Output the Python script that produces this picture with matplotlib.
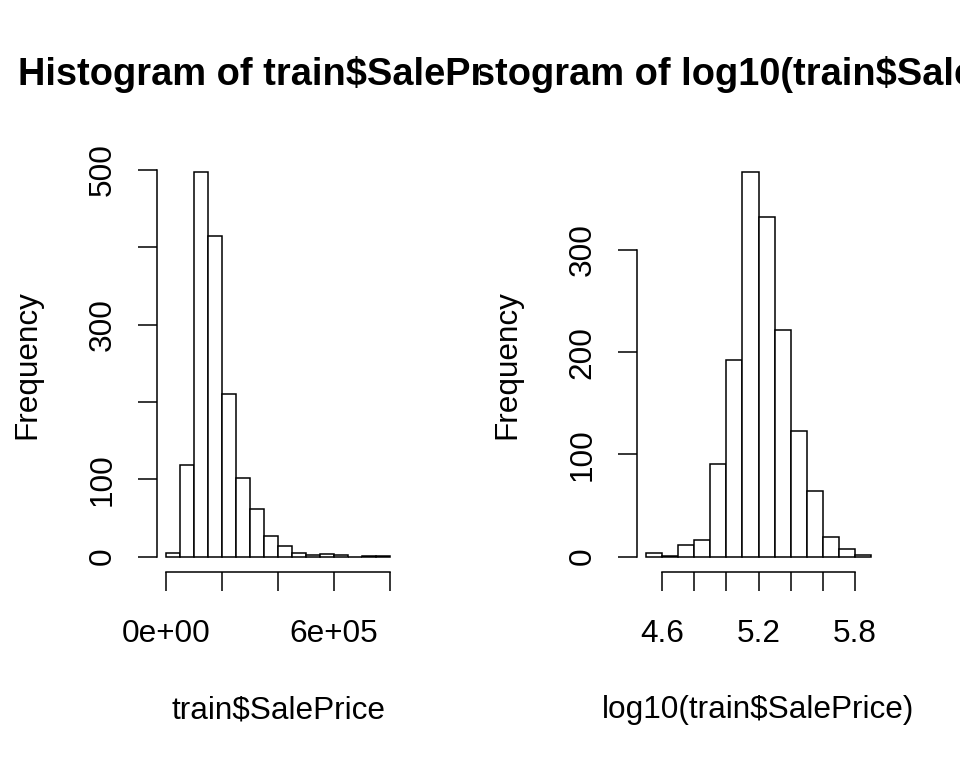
import matplotlib
matplotlib.use("Agg")
import matplotlib.pyplot as plt
from matplotlib.transforms import Bbox, TransformedBbox

plt.rcParams['font.family'] = ['Liberation Sans', 'DejaVu Sans']
plt.rcParams['font.size'] = 22.7

# histogram of SalePrice (bins of 50000)
price_breaks = [0, 50000, 100000, 150000, 200000, 250000, 300000, 350000, 400000,
                450000, 500000, 550000, 600000, 650000, 700000, 750000, 800000]
price_counts = [5, 119, 497, 415, 210, 102, 62, 27, 14, 5, 2, 3, 2, 0, 1, 1]
price_xticks = [0, 200000, 400000, 600000, 800000]
price_xlabels = ['0e+00', '', '', '6e+05', '']
price_yticks = [0, 100, 200, 300, 400, 500]
price_ylabels = ['0', '100', '', '300', '', '500']

# histogram of log10(SalePrice) (bins of 0.1)
log_breaks = [4.5, 4.6, 4.7, 4.8, 4.9, 5.0, 5.1, 5.2, 5.3, 5.4, 5.5, 5.6, 5.7, 5.8, 5.9]
log_counts = [4, 1, 11, 16, 91, 192, 376, 332, 222, 123, 64, 19, 7, 2]
log_xticks = [4.6, 4.8, 5.0, 5.2, 5.4, 5.6, 5.8]
log_xlabels = ['4.6', '', '', '5.2', '', '', '5.8']
log_yticks = [0, 100, 200, 300]
log_ylabels = ['0', '100', '200', '300']

W, H = 960, 768
fig = plt.figure(figsize=(W / 100, H / 100), dpi=100)

LW = 1.1


def r_hist(ax, breaks, counts, xticks, xlabels, yticks, ylabels, title, xlabel, half):
    widths = [b - a for a, b in zip(breaks[:-1], breaks[1:])]
    ax.bar(breaks[:-1], counts, width=widths, align='edge', facecolor='white',
           edgecolor='black', linewidth=LW)
    # R style 4% padding
    xr = breaks[-1] - breaks[0]
    yr = max(counts)
    ax.set_xlim(breaks[0] - 0.04 * xr, breaks[-1] + 0.04 * xr)
    ax.set_ylim(-0.04 * yr, 1.04 * yr)

    for s in ['top', 'right']:
        ax.spines[s].set_visible(False)
    ax.spines['left'].set_bounds(yticks[0], yticks[-1])
    ax.spines['bottom'].set_bounds(xticks[0], xticks[-1])
    for s in ['left', 'bottom']:
        ax.spines[s].set_linewidth(LW)

    ax.set_xticks(xticks, xlabels)
    ax.set_yticks(yticks, ylabels, rotation=90, va='center')
    ax.tick_params(axis='both', length=13.7, width=LW, direction='out')
    ax.tick_params(axis='y', pad=14.5)
    ax.tick_params(axis='x', pad=19.9)

    t = ax.set_title(title, fontweight='bold', fontsize=27.4, pad=51.8)
    t.set_clip_box(TransformedBbox(Bbox([[half * 0.5, 0], [half * 0.5 + 0.5, 1]]),
                                   fig.transFigure))
    t.set_clip_on(True)

    pos = ax.get_position()
    fig.text((pos.x0 + pos.x1) / 2, 1 - 718.3 / H, xlabel, ha='center', va='baseline')
    fig.text(pos.x0 - 130 / W, (pos.y0 + pos.y1) / 2, 'Frequency', rotation=90,
             ha='center', va='center')


ax1 = fig.add_axes([157 / W, 1 - 572 / H, 242 / W, 415 / H])
r_hist(ax1, price_breaks, price_counts, price_xticks, price_xlabels,
       price_yticks, price_ylabels, 'Histogram of train$SalePrice',
       'train$SalePrice', 0)

ax2 = fig.add_axes([637 / W, 1 - 572 / H, 243 / W, 415 / H])
r_hist(ax2, log_breaks, log_counts, log_xticks, log_xlabels,
       log_yticks, log_ylabels, 'Histogram of log10(train$SalePrice)',
       'log10(train$SalePrice)', 1)

fig.savefig('out.png', dpi=100, facecolor='white')
